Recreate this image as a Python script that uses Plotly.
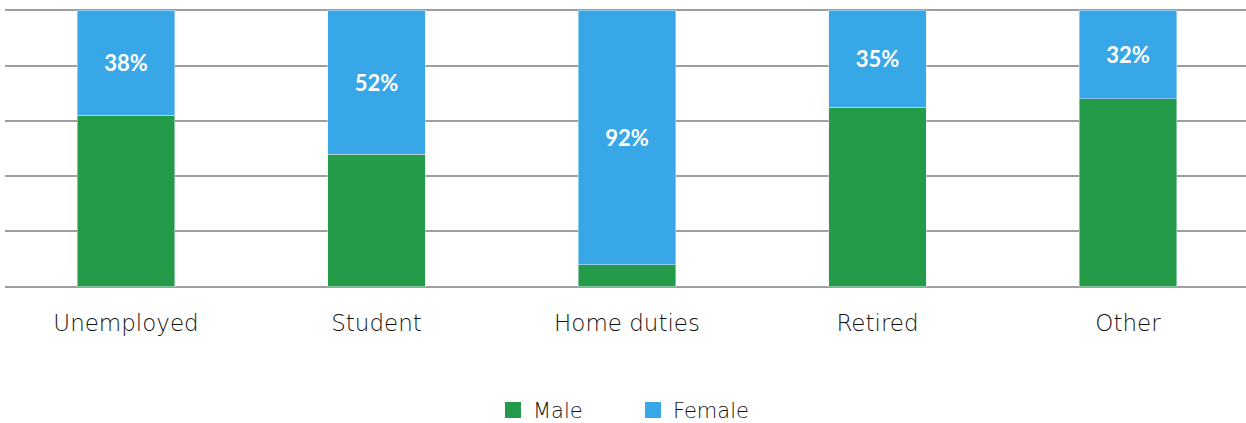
import plotly.graph_objects as go

categories = ["Unemployed", "Student", "Home duties", "Retired", "Other"]
male = [62, 48, 8, 65, 68]
female = [38, 52, 92, 35, 32]

GREEN = "#239B48"
BLUE = "#38A7E8"
FONT = "Lato"
TICKFONT = "DejaVu Sans"

fig = go.Figure()
fig.add_trace(go.Bar(
    x=categories, y=male, name="Male", marker_color=GREEN,
    width=0.39, hoverinfo="skip", showlegend=False
))
fig.add_trace(go.Bar(
    x=categories, y=female, name="Female", marker_color=BLUE,
    width=0.39, text=[f"{v}%" for v in female],
    texttemplate="<b>%{text}</b>", textposition="inside",
    insidetextanchor="middle",
    textfont=dict(color="white", size=22, family=FONT),
    hoverinfo="skip", showlegend=False
))
# legend entries with larger square swatches
for name, color in [("Male", GREEN), ("Female", BLUE)]:
    fig.add_trace(go.Scatter(
        x=[None], y=[None], mode="markers", name=name,
        marker=dict(symbol="square", size=20, color=color),
        hoverinfo="skip", showlegend=True
    ))

fig.update_layout(
    barmode="stack",
    width=1246, height=423,
    margin=dict(l=5, r=0, t=8, b=134, autoexpand=False),
    plot_bgcolor="white", paper_bgcolor="white",
    font=dict(family=FONT, color="#111111"),
    showlegend=True,
    legend=dict(orientation="h", x=0.508, xanchor="center", xref="container",
                y=0.03, yanchor="middle", yref="container",
                font=dict(size=21, family=TICKFONT, color="#111111", weight=200),
                itemwidth=30, itemsizing="trace", entrywidth=95,
                traceorder="normal"),
    uniformtext=dict(minsize=10, mode="show"),
)
fig.update_xaxes(
    range=[-0.483, 4.471], showgrid=False, showline=False, zeroline=False,
    tickfont=dict(size=23, family=TICKFONT, color="#111111", weight=200),
    ticks="", ticklen=0, ticklabelstandoff=18, automargin=False,
)
fig.update_yaxes(
    range=[-0.8, 100.8], tickvals=[0, 20, 40, 60, 80, 100],
    showgrid=True, gridcolor="#9E9E9E", gridwidth=2,
    showticklabels=False, zeroline=False, showline=False, automargin=False,
)

fig.write_html("out.html", config={"displayModeBar": False},
               post_script="document.body.style.margin='0';")
